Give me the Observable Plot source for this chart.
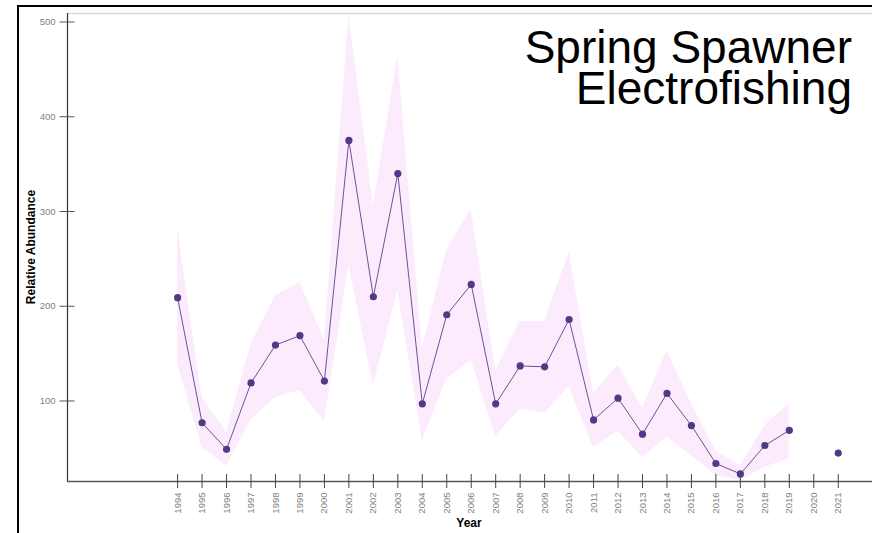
<!DOCTYPE html>
<html>
<head>
<meta charset="utf-8">
<script src="https://cdn.jsdelivr.net/npm/d3@7"></script>
<script src="https://cdn.jsdelivr.net/npm/@observablehq/plot@0.6"></script>
<style>
  html, body { margin: 0; padding: 0; background: #fff; }
  #wrap { position: relative; width: 872px; height: 533px; overflow: hidden; font-family: "Liberation Sans", Arial, sans-serif; }
  #wrap svg { position: absolute; left: 0; top: 0; }
  .bl { position: absolute; left: 17px; top: 5px; width: 2px; height: 528px; background: #000; }
  .bt { position: absolute; left: 17px; top: 5px; width: 855px; height: 2px; background: #000; }
  .title { position: absolute; right: 20px; top: 27px; text-align: right; font-size: 46px; line-height: 41px; color: #000; white-space: nowrap; }
  .ylab { position: absolute; left: 31px; top: 247px; transform: translate(-50%, -50%) rotate(-90deg); font-size: 12px; font-weight: bold; white-space: nowrap; }
  .xlab { position: absolute; left: 469px; top: 523px; transform: translate(-50%, -50%); font-size: 12px; font-weight: bold; white-space: nowrap; }
</style>
</head>
<body>
<div id="wrap"></div>
<script>
const years = [1994, 1995, 1996, 1997, 1998, 1999, 2000, 2001, 2002, 2003, 2004, 2005, 2006, 2007,
               2008, 2009, 2010, 2011, 2012, 2013, 2014, 2015, 2016, 2017, 2018, 2019, 2020, 2021];
const abundance = [209, 77, 49, 119, 159, 169, 121, 375, 210, 340, 97, 191, 223, 97,
                   137, 136, 186, 80, 103, 65, 108, 74, 34, 23, 53, 69, null, 45];
const lower = [139, 51, 31, 80, 104, 111, 78, 243, 116, 216, 58, 123, 143, 63,
               91, 87, 115, 51, 68, 40, 62, 42, 21, 16, 30, 39, null, null];
const upper = [282, 104, 67, 160, 211, 225, 164, 508, 306, 464, 155, 260, 302, 132,
               184, 184, 257, 108, 138, 92, 153, 97, 47, 32, 74, 97, null, null];
const yTicks = [100, 200, 300, 400, 500];
const xDomain = [1989.5, 2022.4];
const yDomain = [15, 509];

const data = years.map((year, i) => ({year, value: abundance[i], lower: lower[i], upper: upper[i]}));

const bandColor = "#fcebfc";
const lineColor = "#6b5398";
const dotColor = "#4e3a85";

const chart = Plot.plot({
  width: 872,
  height: 533,
  marginLeft: 67,
  marginTop: 13,
  marginBottom: 52,
  marginRight: 0,
  style: {fontFamily: "'Liberation Sans', Arial, sans-serif", fontSize: "9.5px", background: "transparent"},
  x: {domain: xDomain},
  y: {domain: yDomain},
  marks: [
    Plot.areaY(data, {x: "year", y1: "lower", y2: "upper", fill: bandColor}),
    Plot.ruleY([yDomain[1]], {stroke: "#d8d8d8", strokeWidth: 1.5}),
    Plot.ruleX([xDomain[0]], {stroke: "#333", strokeWidth: 1.2}),
    Plot.ruleY([yDomain[0]], {stroke: "#555", strokeWidth: 1.5}),
    Plot.axisY({ticks: yTicks, tickSize: 15, dx: 7.5, tickPadding: 4.5, tickFormat: d => String(d),
                stroke: "#555", fill: "#808080", label: null}),
    Plot.axisX({ticks: years, tickSize: 14, dy: -7, tickPadding: 4, tickRotate: -90,
                tickFormat: d => String(d), stroke: "#444", fill: "#808080", label: null}),
    Plot.line(data, {x: "year", y: "value", stroke: lineColor, strokeWidth: 1}),
    Plot.dot(data.filter(d => d.value != null), {x: "year", y: "value", r: 3.6, fill: dotColor, stroke: "none"})
  ]
});

const wrap = document.getElementById("wrap");
wrap.appendChild(chart);
wrap.insertAdjacentHTML("beforeend", `
  <div class="bl"></div><div class="bt"></div>
  <div class="title">Spring Spawner<br>Electrofishing</div>
  <div class="ylab">Relative Abundance</div>
  <div class="xlab">Year</div>
`);
</script>
</body>
</html>
